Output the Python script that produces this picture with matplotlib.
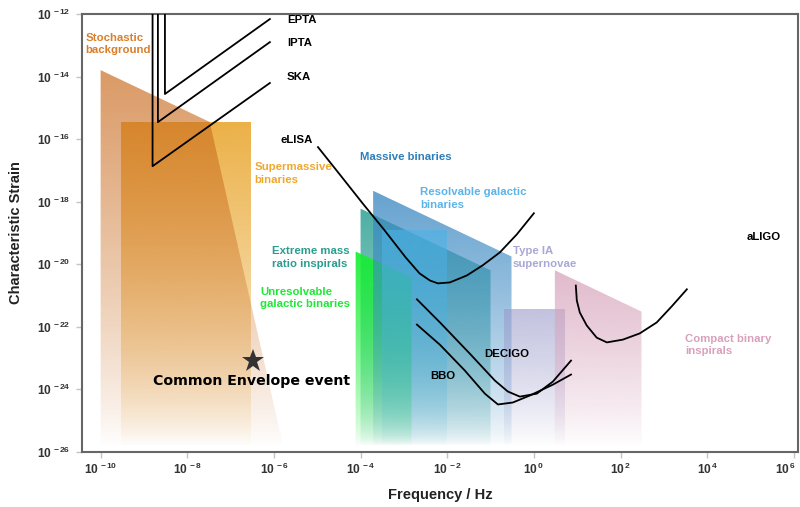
import numpy as np
import matplotlib
matplotlib.use("Agg")
import matplotlib.pyplot as plt
from matplotlib.patches import Polygon
from matplotlib.colors import to_rgb
from matplotlib.ticker import FixedLocator, FuncFormatter, NullLocator
from matplotlib.transforms import ScaledTranslation

plt.rcParams["font.family"] = ["Liberation Sans", "DejaVu Sans"]
plt.rcParams["mathtext.fontset"] = "custom"
plt.rcParams["mathtext.rm"] = "Liberation Sans:bold"
plt.rcParams["mathtext.it"] = "Liberation Sans:bold"
plt.rcParams["mathtext.bf"] = "Liberation Sans:bold"

# ---------------- source regions (frequency [Hz], characteristic strain) ----------------
stoch_f = [1e-10, 3.3e-8, 1.75e-6, 1e-10]
stoch_h = [1.6e-14, 3.5e-16, 1e-26, 1e-26]

smbh_f = [3e-10, 3e-7, 3e-7, 3e-10]
smbh_h = [3.5e-16, 3.5e-16, 1e-26, 1e-26]

emri_f = [1e-4, 0.1, 0.1, 1e-4]
emri_h = [5.9e-19, 6.3e-21, 1e-26, 1e-26]

ugb_f = [7.7e-5, 1.5e-3, 1.5e-3, 7.7e-5]
ugb_h = [2.5e-20, 3.8e-21, 1e-26, 1e-26]

mbh_f = [1.95e-4, 0.305, 0.305, 1.95e-4]
mbh_h = [2.2e-18, 1.74e-20, 1e-26, 1e-26]

rgb_f = [3.1e-4, 1e-2, 1e-2, 3.1e-4]
rgb_h = [1.2e-19, 1.2e-19, 1e-26, 1e-26]

sn_f = [0.204, 5.2, 5.2, 0.204]
sn_h = [3.7e-22, 3.7e-22, 1e-26, 1e-26]

cbi_f = [3.05, 305, 305, 3.05]
cbi_h = [6.3e-21, 3.0e-22, 1e-26, 1e-26]

# ---------------- detector sensitivity curves ----------------
epta_f = [3.05e-9, 3.05e-9, 8.07e-7]
epta_h = [1e-12, 2.75e-15, 6.9e-13]
ipta_f = [2.1e-9, 2.1e-9, 8.07e-7]
ipta_h = [1e-12, 3.47e-16, 1.26e-13]
ska_f = [1.58e-9, 1.58e-9, 8.07e-7]
ska_h = [1e-12, 1.35e-17, 6.2e-15]

elisa_f = [1.04e-5, 3.0e-5, 1.19e-4, 3.3e-4, 1.1e-3, 2.3e-3, 4.0e-3, 6.1e-3,
           1.15e-2, 2.84e-2, 6.6e-2, 0.164, 0.405, 1.0]
elisa_h = [5.5e-17, 8.7e-18, 7.8e-19, 1.38e-19, 1.62e-20, 5.0e-21, 2.96e-21,
           2.4e-21, 2.57e-21, 4.3e-21, 9.1e-21, 2.35e-20, 8.9e-20, 4.2e-19]

decigo_f = [2.0e-3, 6.8e-3, 3.33e-2, 0.126, 0.251, 0.475, 1.17, 2.75, 7.2]
decigo_h = [7.4e-22, 1.35e-22, 1.35e-23, 1.86e-24, 8.3e-25, 5.7e-25,
            7.1e-25, 1.73e-24, 8.1e-24]

bbo_f = [2.0e-3, 6.8e-3, 2.55e-2, 7.4e-2, 0.148, 0.327, 0.81, 2.75, 7.2]
bbo_h = [1.15e-22, 2.6e-23, 3.9e-24, 7.1e-25, 3.2e-25, 3.7e-25, 6.2e-25,
         1.38e-24, 2.9e-24]

aligo_f = [9.3, 9.8, 11.5, 16.6, 28.2, 48.4, 113, 277, 686, 1520, 3400]
aligo_h = [2.04e-21, 6.8e-22, 2.8e-22, 1.08e-22, 4.4e-23, 3.1e-23, 3.8e-23,
           6.0e-23, 1.35e-22, 4.4e-22, 1.55e-21]

ce_f, ce_h = 3.27e-7, 8.1e-24

x_ticks = [1e-10, 1e-8, 1e-6, 1e-4, 1e-2, 1e0, 1e2, 1e4, 1e6]
y_ticks = [1e-26, 1e-24, 1e-22, 1e-20, 1e-18, 1e-16, 1e-14, 1e-12]

XLIM = (10 ** -10.43, 10 ** 6.09)
YLIM = (1e-26, 1e-12)

fig = plt.figure(figsize=(8, 5.07), dpi=100)
ax = fig.add_axes([82 / 800, 1 - 451.5 / 507, (797.7 - 82) / 800, (451.5 - 14) / 507])
ax.set_xscale("log")
ax.set_yscale("log")
ax.set_xlim(*XLIM)
ax.set_ylim(*YLIM)
ax.set_autoscale_on(False)


def yfrac(h):
    lo, hi = np.log10(YLIM[0]), np.log10(YLIM[1])
    return (np.log10(h) - lo) / (hi - lo)


def shaded_region(fs, hs, color, alpha, zorder, bottom=0.012, power=0.8):
    """Filled polygon whose opacity fades towards the bottom of the plot."""
    poly = Polygon(np.column_stack([fs, hs]), closed=True,
                   facecolor="none", edgecolor="none", transform=ax.transData)
    ax.add_patch(poly)
    top = yfrac(max(hs))
    n = 400
    yy = np.linspace(0, 1, n)
    t = np.clip((yy - bottom) / (top - bottom), 0, 1)
    img = np.zeros((n, 1, 4))
    img[..., :3] = to_rgb(color)
    img[:, 0, 3] = alpha * t ** power
    im = ax.imshow(img, extent=[0, 1, 0, 1], transform=ax.transAxes,
                   origin="lower", aspect="auto", interpolation="bilinear",
                   zorder=zorder)
    im.set_clip_path(poly)


shaded_region(smbh_f, smbh_h, "#e9a62e", 0.88, 1)
shaded_region(stoch_f, stoch_h, "#c96a1c", 0.68, 2)
shaded_region(emri_f, emri_h, "#1f9a8c", 0.8, 3, power=0.7)
shaded_region(ugb_f, ugb_h, "#14ee30", 0.92, 4, power=0.7)
shaded_region(mbh_f, mbh_h, "#3a88c2", 0.78, 5, power=0.7)
shaded_region(rgb_f, rgb_h, "#4ab2e6", 0.62, 6, power=0.7)
shaded_region(sn_f, sn_h, "#9c9ccc", 0.62, 7)
shaded_region(cbi_f, cbi_h, "#d7a3bb", 0.75, 8)

lw = 1.3
for f, h in [(epta_f, epta_h), (ipta_f, ipta_h), (ska_f, ska_h),
             (elisa_f, elisa_h), (decigo_f, decigo_h), (bbo_f, bbo_h),
             (aligo_f, aligo_h)]:
    ax.plot(f, h, color="black", lw=lw, zorder=10, solid_joinstyle="round")

ax.plot([ce_f], [ce_h], marker="*", markersize=17, color="#333333",
        markeredgewidth=0, zorder=11)
ax.text(1.6e-9, 1.78e-24, "Common Envelope event", family="DejaVu Sans",
        fontweight="bold", fontsize=10.2, color="black", va="center", ha="left",
        zorder=12)

# ---------------- labels ----------------
fs_lab = 8.2
labels = [
    (4.4e-11, 1.1e-13, "Stochastic\nbackground", "#d97f2b"),
    (2.0e-6, 6.4e-13, "EPTA", "black"),
    (2.0e-6, 1.17e-13, "IPTA", "black"),
    (2.0e-6, 9.5e-15, "SKA", "black"),
    (1.45e-6, 9.1e-17, "eLISA", "black"),
    (3.5e-7, 7.8e-18, "Supermassive\nbinaries", "#eea830"),
    (9.6e-5, 2.6e-17, "Massive binaries", "#2e7fb8"),
    (2.35e-3, 1.23e-18, "Resolvable galactic\nbinaries", "#5ab4ea"),
    (8.9e-7, 1.6e-20, "Extreme mass\nratio inspirals", "#2a9d8f"),
    (4.8e-7, 8.1e-22, "Unresolvable\ngalactic binaries", "#1ee836"),
    (0.33, 1.6e-20, "Type IA\nsupernovae", "#a8a8d8"),
    (8.2e4, 7.1e-20, "aLIGO", "black"),
    (3.05e3, 2.6e-23, "Compact binary\ninspirals", "#d9a0bb"),
    (7.0e-2, 1.35e-23, "DECIGO", "black"),
    (4.0e-3, 2.7e-24, "BBO", "black"),
]
for x, y, s, c in labels:
    ax.text(x, y, s, color=c, fontsize=fs_lab, fontweight="bold",
            ha="left", va="center", linespacing=1.3, zorder=12)

# ---------------- axes styling ----------------
ax.xaxis.set_major_locator(FixedLocator(x_ticks))
ax.yaxis.set_major_locator(FixedLocator(y_ticks))
ax.xaxis.set_minor_locator(NullLocator())
ax.yaxis.set_minor_locator(NullLocator())
fmt = FuncFormatter(lambda v, p: r"$10^{\,%d}$" % int(round(np.log10(v))))
ax.xaxis.set_major_formatter(fmt)
ax.yaxis.set_major_formatter(fmt)
ax.tick_params(axis="both", which="major", direction="out", length=4.5,
               width=1, color="#c4c4c4", labelsize=8.6, labelcolor="#333333")
ax.tick_params(axis="x", pad=3)
ax.tick_params(axis="y", pad=4)
for sp in ax.spines.values():
    sp.set_color("#666666")
    sp.set_linewidth(1.5)

ax.set_xlabel("Frequency / Hz", fontsize=10.5, fontweight="bold", color="#222222",
              labelpad=8)
ax.set_ylabel("Characteristic Strain", fontsize=10.5, fontweight="bold",
              color="#222222", labelpad=10)

ax.set_xlim(*XLIM)
ax.set_ylim(*YLIM)

# keep the rightmost frequency label inside the figure
fig.canvas.draw()
last = ax.xaxis.get_major_ticks()[-1].label1
last.set_transform(last.get_transform()
                   + ScaledTranslation(-0.08, 0, fig.dpi_scale_trans))

fig.savefig("out.png", dpi=100)
